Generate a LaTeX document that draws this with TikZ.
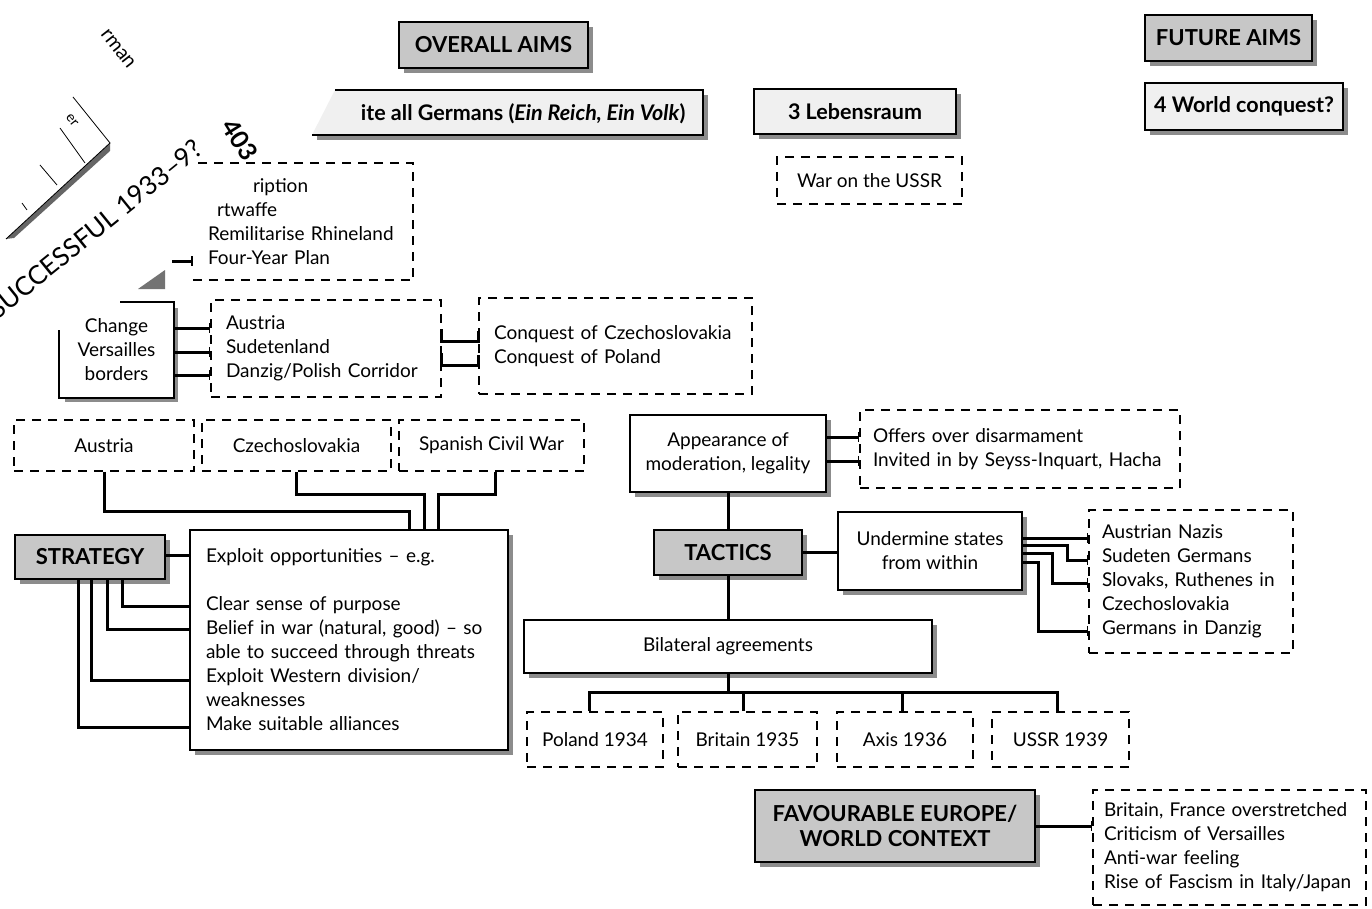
\documentclass[tikz,border=0pt]{standalone}
\usepackage{fontspec}
\setmainfont{Lato}
\usetikzlibrary{arrows.meta, shadows, calc}

\tikzset{
	txt/.style={font=\fontsize{19}{24}\selectfont, inner sep=0pt},
	head/.style={draw, line width=1.8pt, fill=black!22, align=center, inner sep=0pt,
		font=\fontsize{22}{25}\selectfont\bfseries,
		drop shadow={shadow xshift=5pt, shadow yshift=-5pt, fill=black!45, opacity=1}},
	aim/.style={head, fill=black!6, font=\fontsize{21.5}{25}\selectfont\bfseries},
	box/.style={txt, draw, line width=1.8pt, fill=white, align=center,
		drop shadow={shadow xshift=5pt, shadow yshift=-5pt, fill=black!45, opacity=1}},
	dbox/.style={txt, draw, line width=1.6pt, dash pattern=on 9pt off 7pt},
	conn/.style={line width=3pt},
	tick/.style={conn, -{Bar[width=10pt, line width=1.6pt]}},
}

\begin{document}
\begin{tikzpicture}[x=1pt, y=-1pt]
		\fill[white] (0,0) rectangle (1372,909);
		\useasboundingbox (0,0) rectangle (1372,909);

		% torn corner of the page below
		\node[rotate=39, font=\fontsize{26}{26}\selectfont] (succ) at (95,229) {SUCCESSFUL 1933--9?};
		\node[rotate=-58, font=\fontsize{25}{25}\selectfont\bfseries] (pg) at (240,140) {403};
		\node[rotate=-52, font=\fontsize{20}{20}\selectfont] (rman) at (118,49) {rman};
		\node[rotate=-52, font=\fontsize{14}{14}\selectfont] (er) at (72,120) {er};
		\fill[black!60] (6,239) -- (110,143) -- (110,151) -- (14,238) -- cycle;
		\draw[line width=0.8pt] (6,239) -- (110,143) -- (73,97);
		\draw[line width=0.8pt] (40,165) -- (57,185);
		\draw[line width=0.8pt] (60,128) -- (85,163);
		\draw[line width=0.8pt] (22,203) -- (27,210);
		\fill[black!55] (138,289) -- (165,270) -- (165,289) -- cycle;

		% aims
		\node[head, minimum width=189, minimum height=46] (overall) at (493.5,45) {OVERALL AIMS};
		\node[head, minimum width=167, minimum height=46] (future) at (1228.5,38) {FUTURE AIMS};

		\fill[black!45] (317,135) rectangle (708,140);
		\fill[black!45] (703,95) rectangle (708,140);
		\fill[black!6] (312,135) -- (335,90) -- (703,90) -- (703,135) -- cycle;
		\draw[line width=1.8pt] (335,90) -- (703,90) -- (703,135) -- (312,135);
		\node[anchor=east, font=\fontsize{21.5}{25}\selectfont\bfseries] (unite) at (689,114) {ite all Germans (\textit{Ein Reich, Ein Volk})};

		\node[aim, minimum width=202, minimum height=45] (leb) at (855,111.5) {3 Lebensraum};
		\node[aim, minimum width=198, minimum height=47] (world) at (1244,106.5) {4 World conquest?};
		\node[dbox, align=center, minimum width=185, minimum height=47] (ussr) at (869.5,180.5) {War on the USSR};

		% rearmament and borders
		\node[txt, align=left, text width=190, inner xsep=15, minimum height=117] (rearm) at (303,221.5)
			{\hspace*{45pt}ription\\\hspace*{9pt}rtwaffe\\Remilitarise Rhineland\\Four-Year Plan};
		\draw[line width=1.6pt, dash pattern=on 9pt off 7pt] (rearm.south west) -- (rearm.south east) -- (rearm.north east) -- (rearm.north west);
		\coordinate (stub) at (172,261);
		\draw[tick] (stub) -- (rearm.west |- stub);

		\node[box, draw=none, minimum width=113, minimum height=94] (change) at (116.5,350) {Change\\Versailles\\borders};
		\draw[line width=1.8pt] (change.north west -| 120,0) -- (change.north east) -- (change.south east) -- (change.south west) -- (change.west |- 0,330);
		\node[dbox, align=left, text width=200, inner xsep=15, minimum height=97] (borders) at (326,348.5)
			{Austria\\Sudetenland\\Danzig/Polish Corridor};
		\node[dbox, align=left, text width=243, inner xsep=15, minimum height=96] (conquest) at (615.5,346)
			{Conquest of Czechoslovakia\\Conquest of Poland};
		\draw[tick] (change.east |- 0,328) -- (borders.west |- 0,328);
		\draw[tick] (change.east |- 0,352) -- (borders.west |- 0,352);
		\draw[tick] (change.east |- 0,375) -- (borders.west |- 0,375);
		\draw[conn] (borders.east |- 0,329) |- (conquest.west |- 0,341) -- ++(0,-10);
		\draw[conn] (borders.east |- 0,353) |- (conquest.west |- 0,365) -- ++(0,-10);

		% strategy
		\node[dbox, align=center, minimum width=180, minimum height=51] (austria) at (104,445.5) {Austria};
		\node[dbox, align=center, minimum width=189, minimum height=51] (czech) at (296.5,445.5) {Czechoslovakia};
		\node[dbox, align=center, minimum width=185, minimum height=51] (spanish) at (491.5,445.5) {Spanish Civil War};

		\node[box, align=left, text width=286, inner xsep=16, minimum height=220] (exploit) at (349,640)
			{Exploit opportunities -- e.g.\\[24pt]Clear sense of purpose\\Belief in war (natural, good) -- so\\able to succeed through threats\\Exploit Western division/\\weaknesses\\Make suitable alliances};
		\node[head, minimum width=150, minimum height=44] (strategy) at (90,557) {STRATEGY};

		\draw[conn] (austria.south) |- (409,511) -- (exploit.north -| 409,0);
		\draw[conn] (czech.south) |- (424,494) -- (exploit.north -| 424,0);
		\draw[conn] (spanish.south -| 495,0) |- (438,494) -- (exploit.north -| 438,0);
		\draw[conn] (strategy.east |- 0,555) -- (exploit.west |- 0,555);
		\draw[conn] (strategy.south -| 122,0) |- (exploit.west |- 0,606);
		\draw[conn] (strategy.south -| 107,0) |- (exploit.west |- 0,629);
		\draw[conn] (strategy.south -| 91,0) |- (exploit.west |- 0,680);
		\draw[conn] (strategy.south -| 78,0) |- (exploit.west |- 0,727);

		% tactics
		\node[box, minimum width=196, minimum height=77] (appear) at (728,453.5) {Appearance of\\moderation, legality};
		\node[dbox, align=left, text width=294, inner xsep=13, minimum height=78] (offers) at (1020,449)
			{Offers over disarmament\\Invited in by Seyss-Inquart, Hacha};
		\node[head, minimum width=148, minimum height=45] (tactics) at (728,552.5) {TACTICS};
		\node[box, minimum width=184, minimum height=78] (undermine) at (930,551) {Undermine states\\from within};
		\node[dbox, align=left, text width=178, inner xsep=13, minimum height=143] (groups) at (1191,581.5)
			{Austrian Nazis\\Sudeten Germans\\Slovaks, Ruthenes in\\Czechoslovakia\\Germans in Danzig};
		\node[box, minimum width=408, minimum height=53] (bilateral) at (728,646.5) {Bilateral agreements};

		\draw[tick] (appear.east |- 0,437) -- (offers.west |- 0,437);
		\draw[tick] (appear.east |- 0,461) -- (offers.west |- 0,461);
		\draw[conn] (appear.south) -- (tactics.north);
		\draw[conn] (tactics.east) -- (undermine.west |- tactics.east);
		\draw[conn] (tactics.south) -- (bilateral.north);

		\draw[tick] (undermine.east |- 0,538) -- (groups.west |- 0,538);
		\draw[tick] (undermine.east |- 0,545) -| (1067,560) -- (groups.west |- 0,560);
		\draw[tick] (undermine.east |- 0,553) -| (1052,583) -- (groups.west |- 0,583);
		\draw[tick] (undermine.east |- 0,562) -| (1038,631) -- (groups.west |- 0,631);

		\node[dbox, align=center, minimum width=136, minimum height=55] (poland) at (595,739.5) {Poland 1934};
		\node[dbox, align=center, minimum width=139, minimum height=55] (britain) at (747.5,739.5) {Britain 1935};
		\node[dbox, align=center, minimum width=136, minimum height=55] (axis) at (905,739.5) {Axis 1936};
		\node[dbox, align=center, minimum width=137, minimum height=55] (ussrpact) at (1060.5,739.5) {USSR 1939};

		\coordinate (fork) at (728,692);
		\draw[conn] (bilateral.south) -- (fork);
		\draw[conn] (poland.north -| 589,0) |- (1057,692) -- (ussrpact.north -| 1057,0);
		\draw[conn] (britain.north -| 743,0) -- (743,692);
		\draw[conn] (axis.north -| 902,0) -- (902,692);

		% context
		\node[head, minimum width=280, minimum height=72] (context) at (895,826) {FAVOURABLE EUROPE/\\WORLD CONTEXT};
		\node[dbox, align=left, text width=251, inner xsep=11, minimum height=115] (factors) at (1229.5,847.5)
			{Britain, France overstretched\\Criticism of Versailles\\Anti-war feeling\\Rise of Fascism in Italy/Japan};
		\draw[tick] (context.east) -- (factors.west |- context.east);
	\end{tikzpicture}
\end{document}
